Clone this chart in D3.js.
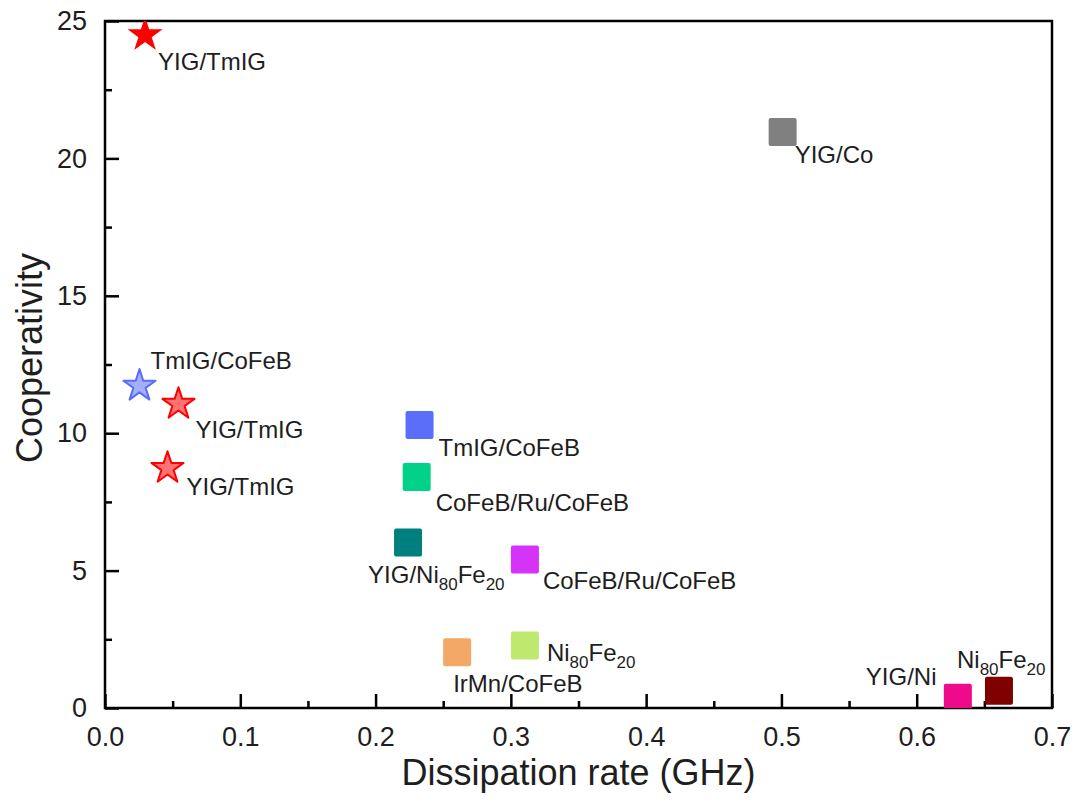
<!DOCTYPE html>
<meta charset="utf-8">
<style>
  body { margin: 0; background: #fff; }
  text { font-family: "Liberation Sans", Arial, sans-serif; fill: #1e1e1e; }
  .frame { fill: none; stroke: #000; stroke-width: 2.5; }
  .axis path { display: none; }
  .axis line { stroke: #000; stroke-width: 2.5; }
  .axis text { font-size: 27px; fill: #1e1e1e; font-family: "Liberation Sans", Arial, sans-serif; }
</style>
<body>
<div id="chart"></div>
<script src="https://d3js.org/d3.v7.min.js"></script>
<script>
// sample names ("_80" marks a subscript)
var samples = ["YIG/TmIG", "TmIG/CoFeB", "YIG/TmIG", "YIG/TmIG",
               "TmIG/CoFeB", "CoFeB/Ru/CoFeB", "YIG/Ni_80Fe_20", "CoFeB/Ru/CoFeB",
               "IrMn/CoFeB", "Ni_80Fe_20", "YIG/Co", "YIG/Ni", "Ni_80Fe_20"];
// dissipation rate (GHz)
var dissipation = [0.0296, 0.0255, 0.0543, 0.0462,
                   0.2325, 0.2304, 0.224, 0.3104,
                   0.2603, 0.3104, 0.5009, 0.6304, 0.6608];
// cooperativity
var cooperativity = [24.49, 11.72, 11.06, 8.73,
                     10.30, 8.41, 6.02, 5.40,
                     2.03, 2.27, 20.96, 0.37, 0.63];
var shapes = ["star", "star", "star", "star",
              "square", "square", "square", "square",
              "square", "square", "square", "square", "square"];
var colors = ["#ff0000", "#5b6cf9", "#ff0000", "#ff0000",
              "#5a6efa", "#00d28a", "#007f7f", "#d633f8",
              "#f3a868", "#bdea6e", "#808080", "#ee0a8a", "#800000"];
var xTicks = [0, 0.1, 0.2, 0.3, 0.4, 0.5, 0.6, 0.7];
var yTicks = [0, 5, 10, 15, 20, 25];

// label placement (pixel offset from marker centre to label start/baseline)
var labelOffset = [[13, 35], [11, -17], [17, 34], [19, 27],
                   [19, 31], [19, 34], [-40, 40], [18, 29],
                   [-4, 40], [22, 15], [12, 31], [-92, -13], [-42, -23]];

var width = 1076, height = 805;
var x = d3.scaleLinear().domain([0, 0.7]).range([105, 1052]);
var y = d3.scaleLinear().domain([0, 25]).range([708, 21]);

var svg = d3.select("#chart").append("svg")
    .attr("width", width)
    .attr("height", height);

svg.append("defs").append("clipPath").attr("id", "plot")
  .append("rect")
    .attr("x", x(0)).attr("y", y(25))
    .attr("width", x(0.7) - x(0)).attr("height", y(0) - y(25));

// minor ticks
svg.append("g").attr("class", "axis")
    .attr("transform", "translate(0," + y(0) + ")")
    .call(d3.axisBottom(x).tickValues(d3.range(0.05, 0.7, 0.1)).tickSize(-7).tickFormat(""));
svg.append("g").attr("class", "axis")
    .attr("transform", "translate(" + x(0) + ",0)")
    .call(d3.axisLeft(y).tickValues([2.5, 7.5, 12.5, 17.5, 22.5]).tickSize(-7).tickFormat(""));

// major ticks
svg.append("g").attr("class", "axis")
    .attr("transform", "translate(0," + y(0) + ")")
    .call(d3.axisBottom(x).tickValues(xTicks).tickSize(-14).tickPadding(19).tickFormat(d3.format(".1f")));
svg.append("g").attr("class", "axis")
    .attr("transform", "translate(" + x(0) + ",0)")
    .call(d3.axisLeft(y).tickValues(yTicks).tickSize(-14).tickPadding(18).tickFormat(d3.format("d")));

svg.append("rect").attr("class", "frame")
    .attr("x", x(0)).attr("y", y(25))
    .attr("width", x(0.7) - x(0)).attr("height", y(0) - y(25));

// axis titles
svg.append("text")
    .attr("x", (x(0) + x(0.7)) / 2)
    .attr("y", 785)
    .attr("text-anchor", "middle")
    .style("font-size", "36px")
    .text("Dissipation rate (GHz)");
svg.append("text")
    .attr("transform", "translate(42," + 358 + ") rotate(-90)")
    .attr("text-anchor", "middle")
    .style("font-size", "36px")
    .text("Cooperativity");

var data = samples.map(function (s, i) {
  return { name: s, x: dissipation[i], y: cooperativity[i], shape: shapes[i], color: colors[i], off: labelOffset[i] };
});

var marks = svg.append("g").attr("clip-path", "url(#plot)");

marks.selectAll("rect.pt")
    .data(data.filter(function (d) { return d.shape == "square"; }))
  .enter().append("rect")
    .attr("class", "pt")
    .attr("x", function (d) { return x(d.x) - 14; })
    .attr("y", function (d) { return y(d.y) - 14; })
    .attr("width", 28).attr("height", 28)
    .attr("rx", 2)
    .attr("fill", function (d) { return d.color; });

marks.selectAll("path.pt")
    .data(data.filter(function (d) { return d.shape == "star"; }))
  .enter().append("path")
    .attr("class", "pt")
    .attr("transform", function (d) { return "translate(" + x(d.x) + "," + y(d.y) + ")"; })
    .attr("d", function (d, i) {
      return d3.symbol(d3.symbolStar, i == 0 ? 380 : 320)();
    })
    .attr("fill", function (d) { return d.color; })
    .attr("fill-opacity", function (d, i) { return i == 0 ? 1 : 0.55; })
    .attr("stroke", function (d) { return d.color; })
    .attr("stroke-width", function (d, i) { return i == 0 ? 0 : 2; })
    .attr("stroke-linejoin", "round");

// labels with subscripts
var labels = svg.selectAll("text.lbl")
    .data(data)
  .enter().append("text")
    .attr("class", "lbl")
    .attr("x", function (d) { return x(d.x) + d.off[0]; })
    .attr("y", function (d) { return y(d.y) + d.off[1]; })
    .style("font-size", "24px");

labels.each(function (d) {
  var t = d3.select(this);
  var parts = d.name.split(/_(\d+)/);
  var sub = false;
  parts.forEach(function (p, k) {
    if (p === "") return;
    var isSub = k % 2 == 1;
    var ts = t.append("tspan").text(p);
    if (isSub) {
      ts.style("font-size", "17px").attr("dy", sub ? 0 : 7);
      sub = true;
    } else if (sub) {
      ts.attr("dy", -7);
      sub = false;
    }
  });
});
</script>
</body>
